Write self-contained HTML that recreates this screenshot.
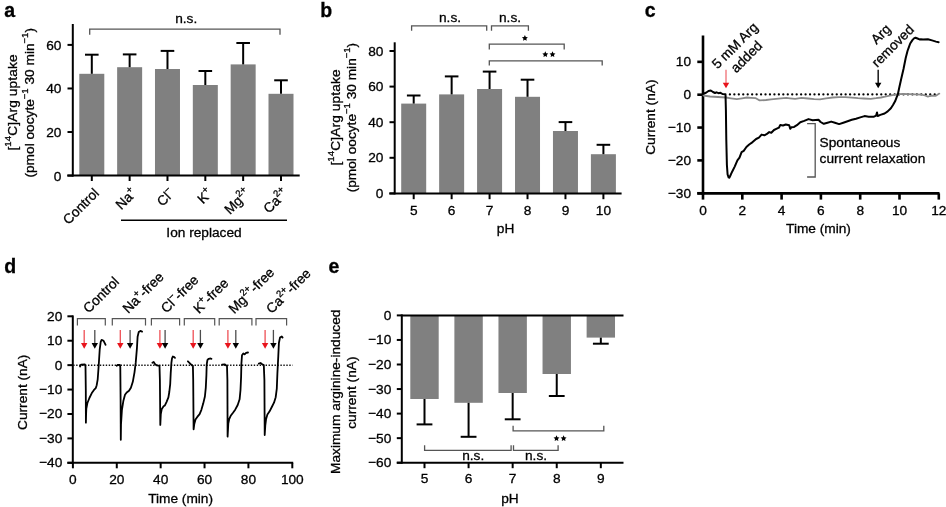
<!DOCTYPE html>
<html><head><meta charset="utf-8"><style>
html,body{margin:0;padding:0;background:#fff;}
svg{display:block;will-change:transform;}
text{font-family:"Liberation Sans",sans-serif;fill:#000;stroke:#000;stroke-width:0.3px;}
</style></head><body>
<svg width="946" height="507" viewBox="0 0 946 507">
<rect width="946" height="507" fill="#fff"/>
<text x="4.30" y="16.80" text-anchor="start" font-size="19.5" font-weight="bold">a</text>
<text x="320.20" y="16.80" text-anchor="start" font-size="19.5" font-weight="bold">b</text>
<text x="644.80" y="16.80" text-anchor="start" font-size="19.5" font-weight="bold">c</text>
<text x="4.30" y="273.00" text-anchor="start" font-size="19.5" font-weight="bold">d</text>
<text x="328.50" y="273.00" text-anchor="start" font-size="19.5" font-weight="bold">e</text>
<line x1="67.50" y1="175.60" x2="72.80" y2="175.60" stroke="#000" stroke-width="2.0"/>
<text x="61.40" y="180.50" text-anchor="end" font-size="13.7" >0</text>
<line x1="67.50" y1="132.03" x2="72.80" y2="132.03" stroke="#000" stroke-width="2.0"/>
<text x="61.40" y="136.93" text-anchor="end" font-size="13.7" >20</text>
<line x1="67.50" y1="88.47" x2="72.80" y2="88.47" stroke="#000" stroke-width="2.0"/>
<text x="61.40" y="93.37" text-anchor="end" font-size="13.7" >40</text>
<line x1="67.50" y1="44.90" x2="72.80" y2="44.90" stroke="#000" stroke-width="2.0"/>
<text x="61.40" y="49.80" text-anchor="end" font-size="13.7" >60</text>
<rect x="79.30" y="73.80" width="25.00" height="101.80" fill="#808080"/>
<line x1="91.80" y1="73.80" x2="91.80" y2="54.70" stroke="#000" stroke-width="2.0"/>
<line x1="85.00" y1="54.70" x2="98.60" y2="54.70" stroke="#000" stroke-width="2.0"/>
<line x1="91.80" y1="175.60" x2="91.80" y2="181.00" stroke="#000" stroke-width="2.0"/>
<rect x="117.14" y="67.20" width="25.00" height="108.40" fill="#808080"/>
<line x1="129.64" y1="67.20" x2="129.64" y2="54.40" stroke="#000" stroke-width="2.0"/>
<line x1="122.84" y1="54.40" x2="136.44" y2="54.40" stroke="#000" stroke-width="2.0"/>
<line x1="129.64" y1="175.60" x2="129.64" y2="181.00" stroke="#000" stroke-width="2.0"/>
<rect x="154.98" y="69.00" width="25.00" height="106.60" fill="#808080"/>
<line x1="167.48" y1="69.00" x2="167.48" y2="50.90" stroke="#000" stroke-width="2.0"/>
<line x1="160.68" y1="50.90" x2="174.28" y2="50.90" stroke="#000" stroke-width="2.0"/>
<line x1="167.48" y1="175.60" x2="167.48" y2="181.00" stroke="#000" stroke-width="2.0"/>
<rect x="192.82" y="85.00" width="25.00" height="90.60" fill="#808080"/>
<line x1="205.32" y1="85.00" x2="205.32" y2="71.00" stroke="#000" stroke-width="2.0"/>
<line x1="198.52" y1="71.00" x2="212.12" y2="71.00" stroke="#000" stroke-width="2.0"/>
<line x1="205.32" y1="175.60" x2="205.32" y2="181.00" stroke="#000" stroke-width="2.0"/>
<rect x="230.66" y="64.40" width="25.00" height="111.20" fill="#808080"/>
<line x1="243.16" y1="64.40" x2="243.16" y2="43.00" stroke="#000" stroke-width="2.0"/>
<line x1="236.36" y1="43.00" x2="249.96" y2="43.00" stroke="#000" stroke-width="2.0"/>
<line x1="243.16" y1="175.60" x2="243.16" y2="181.00" stroke="#000" stroke-width="2.0"/>
<rect x="268.50" y="93.80" width="25.00" height="81.80" fill="#808080"/>
<line x1="281.00" y1="93.80" x2="281.00" y2="80.30" stroke="#000" stroke-width="2.0"/>
<line x1="274.20" y1="80.30" x2="287.80" y2="80.30" stroke="#000" stroke-width="2.0"/>
<line x1="281.00" y1="175.60" x2="281.00" y2="181.00" stroke="#000" stroke-width="2.0"/>
<line x1="72.80" y1="24.00" x2="72.80" y2="176.60" stroke="#000" stroke-width="2.0"/>
<line x1="67.30" y1="175.60" x2="299.70" y2="175.60" stroke="#000" stroke-width="2.0"/>
<path d="M89.70,34.70 V29.20 H280.00 V34.70" fill="none" stroke="#555555" stroke-width="1.3"/>
<text x="186.20" y="22.60" text-anchor="middle" font-size="13.7" >n.s.</text>
<text transform="translate(99.80,194.00) rotate(-45)" text-anchor="end" font-size="13.7">Control</text>
<text transform="translate(137.64,194.00) rotate(-45)" text-anchor="end" font-size="13.7">Na<tspan font-size="9.5" baseline-shift="6">+</tspan></text>
<text transform="translate(175.48,194.00) rotate(-45)" text-anchor="end" font-size="13.7">Cl<tspan font-size="9.5" baseline-shift="6">−</tspan></text>
<text transform="translate(213.32,194.00) rotate(-45)" text-anchor="end" font-size="13.7">K<tspan font-size="9.5" baseline-shift="6">+</tspan></text>
<text transform="translate(251.16,194.00) rotate(-45)" text-anchor="end" font-size="13.7">Mg<tspan font-size="9.5" baseline-shift="6">2+</tspan></text>
<text transform="translate(289.00,194.00) rotate(-45)" text-anchor="end" font-size="13.7">Ca<tspan font-size="9.5" baseline-shift="6">2+</tspan></text>
<line x1="121.00" y1="220.20" x2="287.00" y2="220.20" stroke="#000" stroke-width="1.6"/>
<text x="204.00" y="237.30" text-anchor="middle" font-size="13.7" >Ion replaced</text>
<text transform="translate(17.2,102.4) rotate(-90)" text-anchor="middle" font-size="13.7" letter-spacing="0.14">[<tspan font-size="9.5" baseline-shift="6">14</tspan>C]Arg uptake</text>
<text transform="translate(34.3,102.8) rotate(-90)" text-anchor="middle" font-size="13.7">(pmol oocyte<tspan font-size="9.5" baseline-shift="6">−1</tspan> 30 min<tspan font-size="9.5" baseline-shift="6">−1</tspan>)</text>
<line x1="389.50" y1="193.40" x2="394.70" y2="193.40" stroke="#000" stroke-width="2.0"/>
<text x="383.40" y="197.90" text-anchor="end" font-size="13.7" >0</text>
<line x1="389.50" y1="157.80" x2="394.70" y2="157.80" stroke="#000" stroke-width="2.0"/>
<text x="383.40" y="162.30" text-anchor="end" font-size="13.7" >20</text>
<line x1="389.50" y1="122.20" x2="394.70" y2="122.20" stroke="#000" stroke-width="2.0"/>
<text x="383.40" y="126.70" text-anchor="end" font-size="13.7" >40</text>
<line x1="389.50" y1="86.60" x2="394.70" y2="86.60" stroke="#000" stroke-width="2.0"/>
<text x="383.40" y="91.10" text-anchor="end" font-size="13.7" >60</text>
<line x1="389.50" y1="51.00" x2="394.70" y2="51.00" stroke="#000" stroke-width="2.0"/>
<text x="383.40" y="55.50" text-anchor="end" font-size="13.7" >80</text>
<rect x="401.20" y="103.60" width="25.00" height="89.80" fill="#808080"/>
<line x1="413.70" y1="103.60" x2="413.70" y2="95.50" stroke="#000" stroke-width="2.0"/>
<line x1="406.90" y1="95.50" x2="420.50" y2="95.50" stroke="#000" stroke-width="2.0"/>
<line x1="413.70" y1="193.40" x2="413.70" y2="199.20" stroke="#000" stroke-width="2.0"/>
<text x="413.70" y="214.50" text-anchor="middle" font-size="13.7" >5</text>
<rect x="439.14" y="94.40" width="25.00" height="99.00" fill="#808080"/>
<line x1="451.64" y1="94.40" x2="451.64" y2="76.40" stroke="#000" stroke-width="2.0"/>
<line x1="444.84" y1="76.40" x2="458.44" y2="76.40" stroke="#000" stroke-width="2.0"/>
<line x1="451.64" y1="193.40" x2="451.64" y2="199.20" stroke="#000" stroke-width="2.0"/>
<text x="451.64" y="214.50" text-anchor="middle" font-size="13.7" >6</text>
<rect x="477.08" y="89.00" width="25.00" height="104.40" fill="#808080"/>
<line x1="489.58" y1="89.00" x2="489.58" y2="71.60" stroke="#000" stroke-width="2.0"/>
<line x1="482.78" y1="71.60" x2="496.38" y2="71.60" stroke="#000" stroke-width="2.0"/>
<line x1="489.58" y1="193.40" x2="489.58" y2="199.20" stroke="#000" stroke-width="2.0"/>
<text x="489.58" y="214.50" text-anchor="middle" font-size="13.7" >7</text>
<rect x="515.02" y="96.80" width="25.00" height="96.60" fill="#808080"/>
<line x1="527.52" y1="96.80" x2="527.52" y2="79.70" stroke="#000" stroke-width="2.0"/>
<line x1="520.72" y1="79.70" x2="534.32" y2="79.70" stroke="#000" stroke-width="2.0"/>
<line x1="527.52" y1="193.40" x2="527.52" y2="199.20" stroke="#000" stroke-width="2.0"/>
<text x="527.52" y="214.50" text-anchor="middle" font-size="13.7" >8</text>
<rect x="552.96" y="131.00" width="25.00" height="62.40" fill="#808080"/>
<line x1="565.46" y1="131.00" x2="565.46" y2="122.10" stroke="#000" stroke-width="2.0"/>
<line x1="558.66" y1="122.10" x2="572.26" y2="122.10" stroke="#000" stroke-width="2.0"/>
<line x1="565.46" y1="193.40" x2="565.46" y2="199.20" stroke="#000" stroke-width="2.0"/>
<text x="565.46" y="214.50" text-anchor="middle" font-size="13.7" >9</text>
<rect x="590.90" y="154.20" width="25.00" height="39.20" fill="#808080"/>
<line x1="603.40" y1="154.20" x2="603.40" y2="144.80" stroke="#000" stroke-width="2.0"/>
<line x1="596.60" y1="144.80" x2="610.20" y2="144.80" stroke="#000" stroke-width="2.0"/>
<line x1="603.40" y1="193.40" x2="603.40" y2="199.20" stroke="#000" stroke-width="2.0"/>
<text x="603.40" y="214.50" text-anchor="middle" font-size="13.7" >10</text>
<line x1="394.70" y1="42.30" x2="394.70" y2="194.40" stroke="#000" stroke-width="2.0"/>
<line x1="389.30" y1="193.40" x2="621.60" y2="193.40" stroke="#000" stroke-width="2.0"/>
<text x="505.60" y="233.40" text-anchor="middle" font-size="13.7" >pH</text>
<path d="M411.60,30.80 V25.80 H486.70 V30.80" fill="none" stroke="#555555" stroke-width="1.3"/>
<path d="M491.50,30.80 V25.80 H528.40 V30.80" fill="none" stroke="#555555" stroke-width="1.3"/>
<path d="M489.30,49.40 V44.20 H564.20 V49.40" fill="none" stroke="#555555" stroke-width="1.3"/>
<path d="M489.30,65.40 V60.80 H602.20 V65.40" fill="none" stroke="#555555" stroke-width="1.3"/>
<text x="450.00" y="21.60" text-anchor="middle" font-size="13.7" >n.s.</text>
<text x="510.00" y="21.60" text-anchor="middle" font-size="13.7" >n.s.</text>
<polygon points="524.90,35.05 525.81,36.90 527.85,37.19 526.37,38.63 526.72,40.66 524.90,39.70 523.08,40.66 523.43,38.63 521.95,37.19 523.99,36.90" fill="#000"/>
<polygon points="545.30,51.35 546.21,53.20 548.25,53.49 546.77,54.93 547.12,56.96 545.30,56.00 543.48,56.96 543.83,54.93 542.35,53.49 544.39,53.20" fill="#000"/>
<polygon points="552.50,51.35 553.41,53.20 555.45,53.49 553.97,54.93 554.32,56.96 552.50,56.00 550.68,56.96 551.03,54.93 549.55,53.49 551.59,53.20" fill="#000"/>
<text transform="translate(340.0,117.4) rotate(-90)" text-anchor="middle" font-size="13.7" letter-spacing="0.14">[<tspan font-size="9.5" baseline-shift="6">14</tspan>C]Arg uptake</text>
<text transform="translate(355.8,117.6) rotate(-90)" text-anchor="middle" font-size="13.7">(pmol oocyte<tspan font-size="9.5" baseline-shift="6">−1</tspan> 30 min<tspan font-size="9.5" baseline-shift="6">−1</tspan>)</text>
<line x1="703.00" y1="35.50" x2="703.00" y2="194.70" stroke="#000" stroke-width="2.6"/>
<line x1="697.30" y1="193.40" x2="939.50" y2="193.40" stroke="#000" stroke-width="2.6"/>
<line x1="697.30" y1="61.85" x2="703.00" y2="61.85" stroke="#000" stroke-width="2.6"/>
<text x="691.00" y="66.35" text-anchor="end" font-size="13.7" >10</text>
<line x1="697.30" y1="94.70" x2="703.00" y2="94.70" stroke="#000" stroke-width="2.6"/>
<text x="691.00" y="99.20" text-anchor="end" font-size="13.7" >0</text>
<line x1="697.30" y1="127.55" x2="703.00" y2="127.55" stroke="#000" stroke-width="2.6"/>
<text x="691.00" y="132.05" text-anchor="end" font-size="13.7" >−10</text>
<line x1="697.30" y1="160.40" x2="703.00" y2="160.40" stroke="#000" stroke-width="2.6"/>
<text x="691.00" y="164.90" text-anchor="end" font-size="13.7" >−20</text>
<line x1="697.30" y1="193.25" x2="703.00" y2="193.25" stroke="#000" stroke-width="2.6"/>
<text x="691.00" y="197.75" text-anchor="end" font-size="13.7" >−30</text>
<line x1="703.00" y1="193.40" x2="703.00" y2="199.60" stroke="#000" stroke-width="2.6"/>
<text x="703.00" y="214.60" text-anchor="middle" font-size="13.7" >0</text>
<line x1="742.30" y1="193.40" x2="742.30" y2="199.60" stroke="#000" stroke-width="2.6"/>
<text x="742.30" y="214.60" text-anchor="middle" font-size="13.7" >2</text>
<line x1="781.60" y1="193.40" x2="781.60" y2="199.60" stroke="#000" stroke-width="2.6"/>
<text x="781.60" y="214.60" text-anchor="middle" font-size="13.7" >4</text>
<line x1="820.90" y1="193.40" x2="820.90" y2="199.60" stroke="#000" stroke-width="2.6"/>
<text x="820.90" y="214.60" text-anchor="middle" font-size="13.7" >6</text>
<line x1="860.20" y1="193.40" x2="860.20" y2="199.60" stroke="#000" stroke-width="2.6"/>
<text x="860.20" y="214.60" text-anchor="middle" font-size="13.7" >8</text>
<line x1="899.50" y1="193.40" x2="899.50" y2="199.60" stroke="#000" stroke-width="2.6"/>
<text x="899.50" y="214.60" text-anchor="middle" font-size="13.7" >10</text>
<line x1="938.80" y1="193.40" x2="938.80" y2="199.60" stroke="#000" stroke-width="2.6"/>
<text x="938.80" y="214.60" text-anchor="middle" font-size="13.7" >12</text>
<text x="818.50" y="233.30" text-anchor="middle" font-size="13.7" >Time (min)</text>
<text transform="translate(655.4,117.2) rotate(-90)" text-anchor="middle" font-size="13.7">Current (nA)</text>
<line x1="729.9" y1="94.4" x2="935.2" y2="94.4" stroke="#000" stroke-width="2.3" stroke-linecap="round" stroke-dasharray="0 4.452"/>
<polyline points="703.5,95.5 710.0,96.5 718.0,97.0 726.0,97.5 731.0,98.3 736.8,99.2 742.0,98.3 747.0,97.5 751.0,97.8 755.8,98.2 758.0,99.5 759.6,100.4 766.0,100.0 771.0,99.4 776.0,98.8 781.0,98.3 786.3,97.9 790.0,98.3 795.2,98.8 801.5,97.9 808.0,98.5 814.2,99.2 820.0,99.4 826.0,98.4 832.7,97.5 839.0,97.2 845.4,97.1 852.0,97.6 858.0,98.2 864.0,98.5 870.8,98.8 876.0,98.2 881.0,97.5 885.0,96.7 889.8,95.6 894.0,94.8 898.7,94.1 903.0,94.0 908.8,94.1 915.0,94.3 921.5,94.6 925.0,95.5 927.9,96.6 930.0,96.0 931.7,95.6 935.5,95.9 939.3,93.6" fill="none" stroke="#8a8a8a" stroke-width="1.8" stroke-linejoin="round" stroke-linecap="round"/>
<polyline points="703.2,93.7 706.0,92.8 708.5,91.0 710.8,90.5 713.0,92.0 715.0,93.0 716.5,92.3 718.5,93.2 720.5,92.8 722.5,94.0 725.5,94.3 725.9,110.0 726.3,140.0 726.9,165.0 727.6,174.5 728.6,177.4 729.4,177.7 730.4,175.5 731.9,172.2 734.7,166.6 737.4,160.4 739.5,157.7 741.6,152.1 743.7,150.8 746.4,147.0 749.2,144.5 752.6,142.1 756.1,139.0 758.9,137.6 761.6,134.6 764.4,135.3 766.5,134.2 769.2,132.1 771.3,132.8 774.0,130.0 776.8,128.7 778.9,127.7 780.3,124.9 783.0,125.5 785.8,124.5 789.2,125.2 790.2,128.8 791.3,127.3 794.1,126.9 796.9,125.2 800.3,122.2 804.2,120.9 808.5,119.1 812.7,120.2 818.5,119.8 820.6,122.0 823.8,123.8 827.5,122.7 831.2,121.6 834.9,122.7 839.1,124.1 843.3,122.7 847.6,121.2 851.8,119.8 856.0,118.8 860.3,117.4 864.5,116.1 868.7,116.7 874.0,116.7 876.1,115.6 877.0,112.4 877.7,116.1 880.3,114.9 884.6,113.5 887.7,111.4 890.9,108.2 893.0,105.0 895.1,101.3 896.7,97.1 897.8,94.5 899.5,86.5 901.3,78.5 903.5,69.0 905.7,58.0 907.5,51.0 908.8,47.4 910.2,43.5 912.4,40.1 914.0,38.4 915.5,37.7 917.5,38.5 919.5,39.4 920.8,39.2 923.0,39.6 927.9,39.2 932.0,40.4 936.0,41.6 938.6,42.2" fill="none" stroke="#000" stroke-width="2.0" stroke-linejoin="round" stroke-linecap="round"/>
<line x1="726.00" y1="69.80" x2="726.00" y2="83.20" stroke="#e8141c" stroke-width="1.6" stroke-opacity="0.5"/>
<path d="M722.80,82.70 L729.20,82.70 L726.00,88.30 Z" fill="#e8141c"/>
<line x1="878.20" y1="69.80" x2="878.20" y2="83.20" stroke="#000" stroke-width="1.6" stroke-opacity="0.85"/>
<path d="M875.00,82.70 L881.40,82.70 L878.20,88.30 Z" fill="#000"/>
<text transform="translate(738.2,48.9) rotate(-45)" text-anchor="middle" font-size="13.7">5 mM Arg</text>
<text transform="translate(749.8,60.0) rotate(-45)" text-anchor="middle" font-size="13.7">added</text>
<text transform="translate(884.0,37.5) rotate(-45)" text-anchor="middle" font-size="13.7">Arg</text>
<text transform="translate(896.0,49.2) rotate(-45)" text-anchor="middle" font-size="13.7">removed</text>
<path d="M807.1,123.7 H815.2 V177.0 H807.1" fill="none" stroke="#555555" stroke-width="1.3"/>
<text x="819.60" y="146.60" text-anchor="start" font-size="13.7" >Spontaneous</text>
<text x="819.60" y="162.60" text-anchor="start" font-size="13.7" >current relaxation</text>
<line x1="72.80" y1="315.40" x2="72.80" y2="463.80" stroke="#000" stroke-width="2.0"/>
<line x1="67.40" y1="462.80" x2="293.20" y2="462.80" stroke="#000" stroke-width="2.0"/>
<line x1="67.40" y1="316.30" x2="72.80" y2="316.30" stroke="#000" stroke-width="2.0"/>
<text x="62.30" y="320.80" text-anchor="end" font-size="13.7" >20</text>
<line x1="67.40" y1="340.72" x2="72.80" y2="340.72" stroke="#000" stroke-width="2.0"/>
<text x="62.30" y="345.22" text-anchor="end" font-size="13.7" >10</text>
<line x1="67.40" y1="365.14" x2="72.80" y2="365.14" stroke="#000" stroke-width="2.0"/>
<text x="62.30" y="369.64" text-anchor="end" font-size="13.7" >0</text>
<line x1="67.40" y1="389.56" x2="72.80" y2="389.56" stroke="#000" stroke-width="2.0"/>
<text x="62.30" y="394.06" text-anchor="end" font-size="13.7" >−10</text>
<line x1="67.40" y1="413.98" x2="72.80" y2="413.98" stroke="#000" stroke-width="2.0"/>
<text x="62.30" y="418.48" text-anchor="end" font-size="13.7" >−20</text>
<line x1="67.40" y1="438.40" x2="72.80" y2="438.40" stroke="#000" stroke-width="2.0"/>
<text x="62.30" y="442.90" text-anchor="end" font-size="13.7" >−30</text>
<line x1="67.40" y1="462.82" x2="72.80" y2="462.82" stroke="#000" stroke-width="2.0"/>
<text x="62.30" y="467.32" text-anchor="end" font-size="13.7" >−40</text>
<line x1="72.90" y1="462.80" x2="72.90" y2="468.30" stroke="#000" stroke-width="2.0"/>
<text x="72.90" y="483.60" text-anchor="middle" font-size="13.7" >0</text>
<line x1="116.78" y1="462.80" x2="116.78" y2="468.30" stroke="#000" stroke-width="2.0"/>
<text x="116.78" y="483.60" text-anchor="middle" font-size="13.7" >20</text>
<line x1="160.66" y1="462.80" x2="160.66" y2="468.30" stroke="#000" stroke-width="2.0"/>
<text x="160.66" y="483.60" text-anchor="middle" font-size="13.7" >40</text>
<line x1="204.54" y1="462.80" x2="204.54" y2="468.30" stroke="#000" stroke-width="2.0"/>
<text x="204.54" y="483.60" text-anchor="middle" font-size="13.7" >60</text>
<line x1="248.42" y1="462.80" x2="248.42" y2="468.30" stroke="#000" stroke-width="2.0"/>
<text x="248.42" y="483.60" text-anchor="middle" font-size="13.7" >80</text>
<line x1="292.30" y1="462.80" x2="292.30" y2="468.30" stroke="#000" stroke-width="2.0"/>
<text x="292.30" y="483.60" text-anchor="middle" font-size="13.7" >100</text>
<text x="180.60" y="503.20" text-anchor="middle" font-size="13.7" >Time (min)</text>
<text transform="translate(27.0,392.3) rotate(-90)" text-anchor="middle" font-size="13.7">Current (nA)</text>
<line x1="73.2" y1="365.2" x2="292.6" y2="365.2" stroke="#111" stroke-width="1.4" stroke-dasharray="1.4 1.56"/>
<path d="M77.40,325.40 V318.60 H105.30 V325.40" fill="none" stroke="#555555" stroke-width="1.2"/>
<path d="M112.30,325.40 V318.60 H145.50 V325.40" fill="none" stroke="#555555" stroke-width="1.2"/>
<path d="M151.40,325.40 V318.60 H179.60 V325.40" fill="none" stroke="#555555" stroke-width="1.2"/>
<path d="M184.30,325.40 V318.60 H214.70 V325.40" fill="none" stroke="#555555" stroke-width="1.2"/>
<path d="M219.20,325.40 V318.60 H251.90 V325.40" fill="none" stroke="#555555" stroke-width="1.2"/>
<path d="M256.00,325.40 V318.60 H286.60 V325.40" fill="none" stroke="#555555" stroke-width="1.2"/>
<line x1="84.20" y1="329.90" x2="84.20" y2="343.60" stroke="#e8141c" stroke-width="1.3" stroke-opacity="0.75"/>
<path d="M81.00,343.10 L87.40,343.10 L84.20,348.70 Z" fill="#e8141c"/>
<line x1="94.80" y1="329.90" x2="94.80" y2="343.60" stroke="#000" stroke-width="1.3" stroke-opacity="0.7"/>
<path d="M91.60,343.10 L98.00,343.10 L94.80,348.70 Z" fill="#000"/>
<line x1="120.30" y1="329.90" x2="120.30" y2="343.60" stroke="#e8141c" stroke-width="1.3" stroke-opacity="0.75"/>
<path d="M117.10,343.10 L123.50,343.10 L120.30,348.70 Z" fill="#e8141c"/>
<line x1="130.10" y1="329.90" x2="130.10" y2="343.60" stroke="#000" stroke-width="1.3" stroke-opacity="0.7"/>
<path d="M126.90,343.10 L133.30,343.10 L130.10,348.70 Z" fill="#000"/>
<line x1="159.90" y1="329.90" x2="159.90" y2="343.60" stroke="#e8141c" stroke-width="1.3" stroke-opacity="0.75"/>
<path d="M156.70,343.10 L163.10,343.10 L159.90,348.70 Z" fill="#e8141c"/>
<line x1="165.10" y1="329.90" x2="165.10" y2="343.60" stroke="#000" stroke-width="1.3" stroke-opacity="0.7"/>
<path d="M161.90,343.10 L168.30,343.10 L165.10,348.70 Z" fill="#000"/>
<line x1="193.20" y1="329.90" x2="193.20" y2="343.60" stroke="#e8141c" stroke-width="1.3" stroke-opacity="0.75"/>
<path d="M190.00,343.10 L196.40,343.10 L193.20,348.70 Z" fill="#e8141c"/>
<line x1="200.40" y1="329.90" x2="200.40" y2="343.60" stroke="#000" stroke-width="1.3" stroke-opacity="0.7"/>
<path d="M197.20,343.10 L203.60,343.10 L200.40,348.70 Z" fill="#000"/>
<line x1="227.90" y1="329.90" x2="227.90" y2="343.60" stroke="#e8141c" stroke-width="1.3" stroke-opacity="0.75"/>
<path d="M224.70,343.10 L231.10,343.10 L227.90,348.70 Z" fill="#e8141c"/>
<line x1="235.80" y1="329.90" x2="235.80" y2="343.60" stroke="#000" stroke-width="1.3" stroke-opacity="0.7"/>
<path d="M232.60,343.10 L239.00,343.10 L235.80,348.70 Z" fill="#000"/>
<line x1="265.10" y1="329.90" x2="265.10" y2="343.60" stroke="#e8141c" stroke-width="1.3" stroke-opacity="0.75"/>
<path d="M261.90,343.10 L268.30,343.10 L265.10,348.70 Z" fill="#e8141c"/>
<line x1="273.40" y1="329.90" x2="273.40" y2="343.60" stroke="#000" stroke-width="1.3" stroke-opacity="0.7"/>
<path d="M270.20,343.10 L276.60,343.10 L273.40,348.70 Z" fill="#000"/>
<text transform="translate(88.80,313.80) rotate(-45)" text-anchor="start" font-size="13.7">Control</text>
<text transform="translate(128.30,314.00) rotate(-45)" text-anchor="start" font-size="13.7">Na<tspan font-size="9.5" baseline-shift="6">+</tspan>-free</text>
<text transform="translate(166.50,313.80) rotate(-45)" text-anchor="start" font-size="13.7">Cl<tspan font-size="9.5" baseline-shift="6">−</tspan>-free</text>
<text transform="translate(199.00,314.30) rotate(-45)" text-anchor="start" font-size="13.7">K<tspan font-size="9.5" baseline-shift="6">+</tspan>-free</text>
<text transform="translate(234.20,314.30) rotate(-45)" text-anchor="start" font-size="13.7">Mg<tspan font-size="9.5" baseline-shift="6">2+</tspan>-free</text>
<text transform="translate(271.80,314.30) rotate(-45)" text-anchor="start" font-size="13.7">Ca<tspan font-size="9.5" baseline-shift="6">2+</tspan>-free</text>
<polyline points="80.0,366.5 81.0,364.6 84.9,364.5 85.5,366.5 85.8,390.0 85.9,422.7 86.1,414.0 86.3,408.9 87.4,403.0 89.4,398.0 91.8,393.1 93.8,390.2 95.7,388.2 96.7,385.2 97.7,379.3 98.7,365.5 99.7,349.7 100.7,341.8 101.6,339.9 103.6,340.8 105.6,344.8" fill="none" stroke="#000" stroke-width="1.8" stroke-linejoin="round" stroke-linecap="round"/>
<polyline points="116.7,365.7 117.9,364.8 119.8,364.8 120.3,367.0 120.6,400.0 120.8,439.8 121.0,424.4 121.9,410.2 123.4,400.7 125.0,394.8 126.7,392.5 129.0,390.8 130.9,387.7 132.8,381.8 134.5,372.3 135.7,362.9 136.9,348.7 137.6,336.8 138.7,332.1 140.4,330.9 142.1,331.6" fill="none" stroke="#000" stroke-width="1.8" stroke-linejoin="round" stroke-linecap="round"/>
<polyline points="152.4,362.8 153.7,361.9 155.1,364.2 156.9,365.4 159.5,365.9 159.9,380.0 160.3,424.9 160.8,414.2 161.8,408.9 163.6,406.2 164.9,405.4 166.6,401.8 168.4,397.4 169.3,392.0 170.2,384.1 170.7,373.4 171.4,362.8 172.0,358.3 172.9,356.5 174.3,357.1 175.0,357.8" fill="none" stroke="#000" stroke-width="1.8" stroke-linejoin="round" stroke-linecap="round"/>
<polyline points="187.9,361.3 190.2,363.6 192.0,365.4 192.9,365.9 193.2,380.0 193.6,429.3 194.3,424.0 195.5,419.6 197.3,416.9 199.6,414.2 201.4,409.8 203.2,403.6 204.9,396.5 205.8,387.6 206.4,375.2 206.7,364.5 207.4,360.1 208.5,358.8 210.6,358.5 211.5,358.8" fill="none" stroke="#000" stroke-width="1.8" stroke-linejoin="round" stroke-linecap="round"/>
<polyline points="222.1,364.7 224.6,364.3 225.9,365.2 227.0,366.0 227.4,380.0 227.6,436.6 228.3,423.7 229.2,419.0 230.7,415.8 233.0,412.8 235.2,409.7 237.7,405.0 239.6,399.3 240.5,390.0 241.1,376.9 241.4,363.7 242.0,355.3 243.3,353.4 244.6,354.4 246.1,352.9 248.0,352.5" fill="none" stroke="#000" stroke-width="1.8" stroke-linejoin="round" stroke-linecap="round"/>
<polyline points="258.8,363.6 260.5,363.0 262.2,364.3 263.8,365.1 264.4,380.0 264.7,435.0 265.3,425.4 266.1,418.9 267.4,414.6 269.6,411.3 271.8,407.0 274.0,402.7 275.7,397.2 276.8,388.6 277.4,373.4 278.3,356.0 278.9,343.0 280.0,337.6 281.8,336.5 282.6,337.6" fill="none" stroke="#000" stroke-width="1.8" stroke-linejoin="round" stroke-linecap="round"/>
<line x1="396.80" y1="315.40" x2="401.80" y2="315.40" stroke="#000" stroke-width="2.0"/>
<text x="391.30" y="319.90" text-anchor="end" font-size="13.7" >0</text>
<line x1="396.80" y1="339.95" x2="401.80" y2="339.95" stroke="#000" stroke-width="2.0"/>
<text x="391.30" y="344.45" text-anchor="end" font-size="13.7" >−10</text>
<line x1="396.80" y1="364.50" x2="401.80" y2="364.50" stroke="#000" stroke-width="2.0"/>
<text x="391.30" y="369.00" text-anchor="end" font-size="13.7" >−20</text>
<line x1="396.80" y1="389.05" x2="401.80" y2="389.05" stroke="#000" stroke-width="2.0"/>
<text x="391.30" y="393.55" text-anchor="end" font-size="13.7" >−30</text>
<line x1="396.80" y1="413.60" x2="401.80" y2="413.60" stroke="#000" stroke-width="2.0"/>
<text x="391.30" y="418.10" text-anchor="end" font-size="13.7" >−40</text>
<line x1="396.80" y1="438.15" x2="401.80" y2="438.15" stroke="#000" stroke-width="2.0"/>
<text x="391.30" y="442.65" text-anchor="end" font-size="13.7" >−50</text>
<line x1="396.80" y1="462.70" x2="401.80" y2="462.70" stroke="#000" stroke-width="2.0"/>
<text x="391.30" y="467.20" text-anchor="end" font-size="13.7" >−60</text>
<rect x="410.30" y="315.40" width="28.40" height="83.60" fill="#808080"/>
<line x1="424.50" y1="399.00" x2="424.50" y2="424.40" stroke="#000" stroke-width="2.0"/>
<line x1="416.60" y1="424.40" x2="432.40" y2="424.40" stroke="#000" stroke-width="2.0"/>
<line x1="424.50" y1="462.70" x2="424.50" y2="468.20" stroke="#000" stroke-width="2.0"/>
<text x="424.50" y="483.40" text-anchor="middle" font-size="13.7" >5</text>
<rect x="454.38" y="315.40" width="28.40" height="87.40" fill="#808080"/>
<line x1="468.58" y1="402.80" x2="468.58" y2="436.80" stroke="#000" stroke-width="2.0"/>
<line x1="460.68" y1="436.80" x2="476.48" y2="436.80" stroke="#000" stroke-width="2.0"/>
<line x1="468.58" y1="462.70" x2="468.58" y2="468.20" stroke="#000" stroke-width="2.0"/>
<text x="468.58" y="483.40" text-anchor="middle" font-size="13.7" >6</text>
<rect x="498.46" y="315.40" width="28.40" height="77.60" fill="#808080"/>
<line x1="512.66" y1="393.00" x2="512.66" y2="419.30" stroke="#000" stroke-width="2.0"/>
<line x1="504.76" y1="419.30" x2="520.56" y2="419.30" stroke="#000" stroke-width="2.0"/>
<line x1="512.66" y1="462.70" x2="512.66" y2="468.20" stroke="#000" stroke-width="2.0"/>
<text x="512.66" y="483.40" text-anchor="middle" font-size="13.7" >7</text>
<rect x="542.54" y="315.40" width="28.40" height="58.60" fill="#808080"/>
<line x1="556.74" y1="374.00" x2="556.74" y2="396.00" stroke="#000" stroke-width="2.0"/>
<line x1="548.84" y1="396.00" x2="564.64" y2="396.00" stroke="#000" stroke-width="2.0"/>
<line x1="556.74" y1="462.70" x2="556.74" y2="468.20" stroke="#000" stroke-width="2.0"/>
<text x="556.74" y="483.40" text-anchor="middle" font-size="13.7" >8</text>
<rect x="586.62" y="315.40" width="28.40" height="22.20" fill="#808080"/>
<line x1="600.82" y1="337.60" x2="600.82" y2="343.70" stroke="#000" stroke-width="2.0"/>
<line x1="592.92" y1="343.70" x2="608.72" y2="343.70" stroke="#000" stroke-width="2.0"/>
<line x1="600.82" y1="462.70" x2="600.82" y2="468.20" stroke="#000" stroke-width="2.0"/>
<text x="600.82" y="483.40" text-anchor="middle" font-size="13.7" >9</text>
<line x1="401.80" y1="314.40" x2="401.80" y2="463.70" stroke="#000" stroke-width="2.0"/>
<line x1="401.80" y1="315.40" x2="623.50" y2="315.40" stroke="#000" stroke-width="2.0"/>
<line x1="396.80" y1="462.70" x2="623.50" y2="462.70" stroke="#000" stroke-width="2.0"/>
<text x="510.00" y="502.60" text-anchor="middle" font-size="13.7" >pH</text>
<path d="M513.10,425.80 V430.80 H603.80 V425.80" fill="none" stroke="#555555" stroke-width="1.3"/>
<path d="M424.60,445.20 V450.40 H511.10 V445.20" fill="none" stroke="#555555" stroke-width="1.3"/>
<path d="M513.50,445.20 V450.40 H558.10 V445.20" fill="none" stroke="#555555" stroke-width="1.3"/>
<polygon points="556.50,435.35 557.41,437.20 559.45,437.49 557.97,438.93 558.32,440.96 556.50,440.00 554.68,440.96 555.03,438.93 553.55,437.49 555.59,437.20" fill="#000"/>
<polygon points="563.60,435.35 564.51,437.20 566.55,437.49 565.07,438.93 565.42,440.96 563.60,440.00 561.78,440.96 562.13,438.93 560.65,437.49 562.69,437.20" fill="#000"/>
<text x="473.20" y="459.60" text-anchor="middle" font-size="13.7" >n.s.</text>
<text x="536.00" y="459.60" text-anchor="middle" font-size="13.7" >n.s.</text>
<text transform="translate(340.0,391.8) rotate(-90)" text-anchor="middle" font-size="13.7">Maximum arginine-induced</text>
<text transform="translate(356.0,392.7) rotate(-90)" text-anchor="middle" font-size="13.7">current (nA)</text>
</svg>
</body></html>
